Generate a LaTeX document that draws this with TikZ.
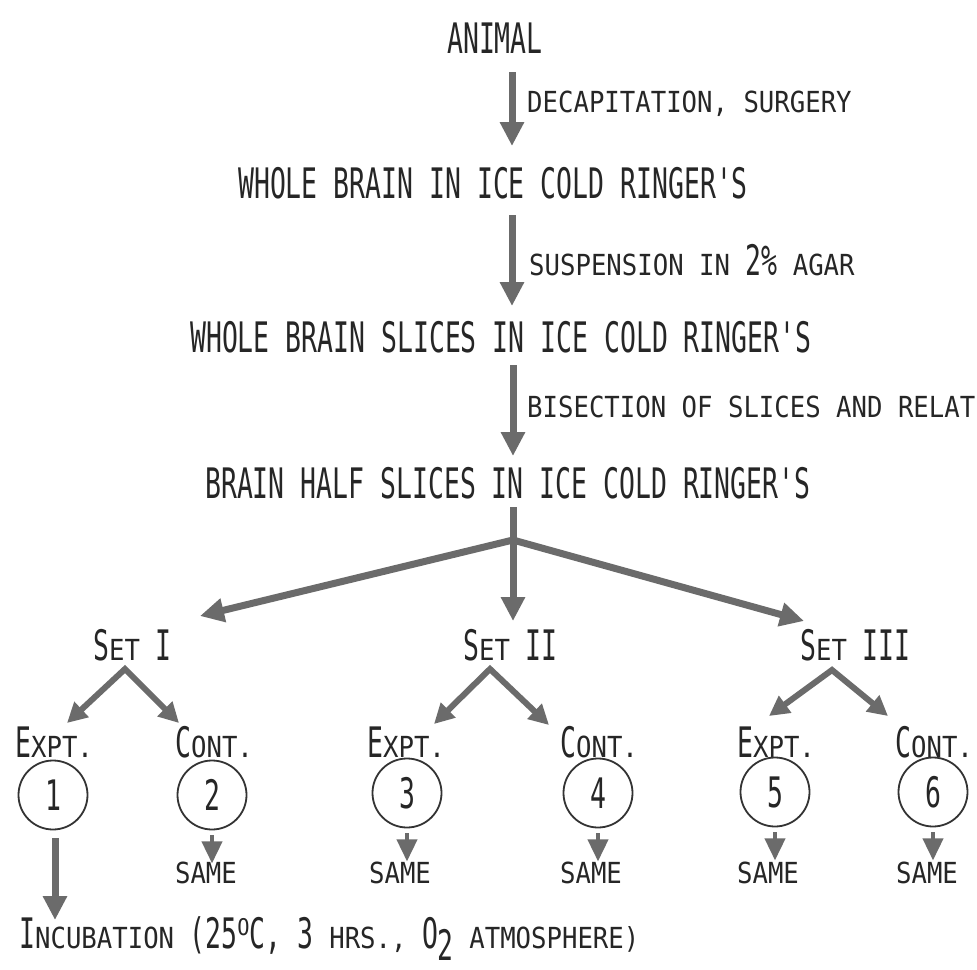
\documentclass[tikz,border=0pt]{standalone}
\usepackage{fontspec}
\usetikzlibrary{arrows.meta}
\newfontfamily\capf[FakeStretch=0.63]{DejaVu Sans Mono}
\newfontfamily\scf[FakeStretch=0.885]{DejaVu Sans Mono}
\newcommand{\tcap}[1]{{\capf\fontsize{42}{44}\selectfont #1}}
\newcommand{\tsc}[1]{{\scf\fontsize{29}{31}\selectfont #1}}
\newcommand{\tdeg}{\raisebox{13pt}{\scf\fontsize{23}{25}\selectfont O}}
\begin{document}
\begin{tikzpicture}[x=1pt,y=-1pt,
  txt/.style={inner sep=0pt, anchor=base west, text=black!85},
  ctxt/.style={inner sep=0pt, anchor=base, text=black!85},
  arr/.style={draw=black!58, line width=7pt, -{Triangle[width=23pt,length=24pt]}},
  shaft/.style={draw=black!58, line width=7pt},
  varr/.style={draw=black!58, line width=6pt, line join=miter, {Triangle[width=20pt,length=20pt]}-{Triangle[width=20pt,length=20pt]}},
  sarr/.style={draw=black!58, line width=4pt, -{Triangle[width=20pt,length=22pt]}},
  circ/.style={draw=black!80, line width=1.8pt, circle, minimum size=69pt, inner sep=0pt, text=black!85}]
\fill[white] (0,0) rectangle (977,969);
\useasboundingbox (0,0) rectangle (977,969);

% main column
\node[txt] (animal) at (447,53) {\tcap{ANIMAL}};
\node[txt] (l1) at (527,112) {\tsc{DECAPITATION, SURGERY}};
\node[txt] (wb) at (238,198) {\tcap{WHOLE BRAIN IN ICE COLD RINGER'S}};
\node[txt] (l2) at (529,275) {\tsc{SUSPENSION IN }\tcap{2\%}\tsc{ AGAR}};
\node[txt] (wbs) at (190,352) {\tcap{WHOLE BRAIN SLICES IN ICE COLD RINGER'S}};
\node[txt] (l3) at (527,417) {\tsc{BISECTION OF SLICES AND RELAT}};
\node[txt] (bhs) at (205,498) {\tcap{BRAIN HALF SLICES IN ICE COLD RINGER'S}};

\coordinate (a1s) at (512,72);  \coordinate (a1e) at (512,146);
\coordinate (a2s) at (512,215); \coordinate (a2e) at (512,306);
\coordinate (a3s) at (513,365); \coordinate (a3e) at (513,456);
\draw[arr] (a1s) -- (a1e);
\draw[arr] (a2s) -- (a2e);
\draw[arr] (a3s) -- (a3e);

% branching
\coordinate (bt) at (513,507);
\coordinate (j) at (513,540);
\coordinate (t1) at (200,616);
\coordinate (t2) at (513,621);
\coordinate (t3) at (804,621);
\draw[shaft] (bt) -- (j);
\draw[arr] (j) -- (t1);
\draw[arr] (j) -- (t2);
\draw[arr] (j) -- (t3);

% sets
\node[txt] (s1) at (93,660) {\tcap{S}\tsc{ET}\tcap{ I}};
\node[txt] (s2) at (463,660) {\tcap{S}\tsc{ET}\tcap{ II}};
\node[txt] (s3) at (800,660) {\tcap{S}\tsc{ET}\tcap{ III}};

\coordinate (p1) at (125,669); \coordinate (p1l) at (67,723); \coordinate (p1r) at (179,723);
\coordinate (p2) at (490,669); \coordinate (p2l) at (434,724); \coordinate (p2r) at (549,725);
\coordinate (p3) at (832,670); \coordinate (p3l) at (769,716); \coordinate (p3r) at (888,716);
\draw[varr] (p1l) -- (p1) -- (p1r);
\draw[varr] (p2l) -- (p2) -- (p2r);
\draw[varr] (p3l) -- (p3) -- (p3r);

% expt / cont labels
\node[txt] (e1) at (15,757) {\tcap{E}\tsc{XPT.}};
\node[txt] (k2) at (175,757) {\tcap{C}\tsc{ONT.}};
\node[txt] (e3) at (367,757) {\tcap{E}\tsc{XPT.}};
\node[txt] (k4) at (560,757) {\tcap{C}\tsc{ONT.}};
\node[txt] (e5) at (737,757) {\tcap{E}\tsc{XPT.}};
\node[txt] (k6) at (895,757) {\tcap{C}\tsc{ONT.}};

% circles
\node[circ] (c1) at (53,795) {\tcap{1}};
\node[circ] (c2) at (212,795) {\tcap{2}};
\node[circ] (c3) at (407,793) {\tcap{3}};
\node[circ] (c4) at (598,793) {\tcap{4}};
\node[circ] (c5) at (775,792) {\tcap{5}};
\node[circ] (c6) at (933,792) {\tcap{6}};

% same
\node[ctxt] (m2) at (206,883) {\tsc{SAME}};
\node[ctxt] (m3) at (400,883) {\tsc{SAME}};
\node[ctxt] (m4) at (591,883) {\tsc{SAME}};
\node[ctxt] (m5) at (768,883) {\tsc{SAME}};
\node[ctxt] (m6) at (927,883) {\tsc{SAME}};
\foreach \c in {c2,c3,c4,c5,c6}{
  \draw[sarr] ([yshift=-5pt]\c.south) -- ([yshift=-33pt]\c.south);
}

% incubation
\coordinate (i1s) at (55,838); \coordinate (i1e) at (55,920);
\draw[arr] (i1s) -- (i1e);
\node[txt] (inc) at (19,948) {\tcap{I}\tsc{NCUBATION }\tcap{(25}\tdeg\tcap{C, 3 }\tsc{HRS., }\tcap{O}\raisebox{-12pt}{\tcap{2}}\tsc{ ATMOSPHERE)}};
\end{tikzpicture}
\end{document}
